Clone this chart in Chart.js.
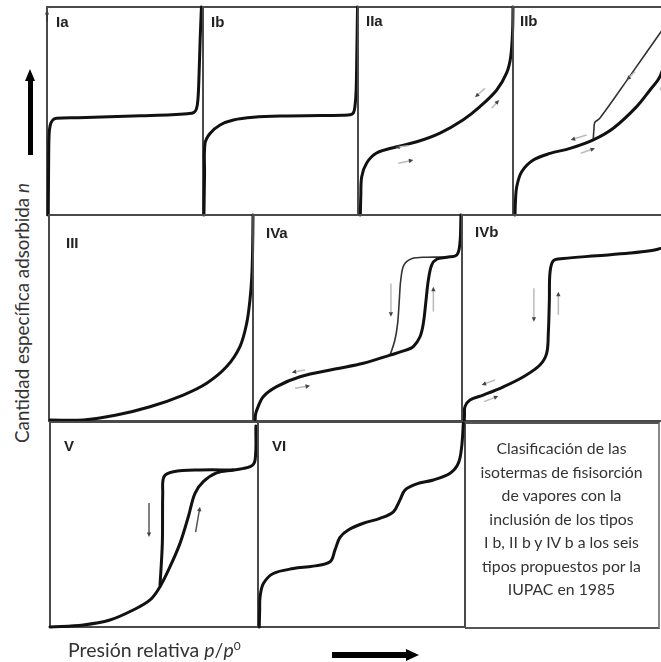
<!DOCTYPE html>
<html><head><meta charset="utf-8">
<script src="https://cdn.jsdelivr.net/npm/chart.js@4"></script>
<style>
body{margin:0;background:#fff;width:661px;height:662px;overflow:hidden;position:relative;font-family:Lato,'Open Sans',sans-serif}
.lab{position:absolute;font-family:'Liberation Sans',Arial,sans-serif;font-weight:bold;font-size:15px;line-height:15px;color:#222}
#ylab{position:absolute;left:21px;top:313px;transform:translate(-50%,-50%) rotate(-90deg);white-space:nowrap;font-size:18.8px;color:#333}
#xlab{position:absolute;left:68px;top:638px;white-space:nowrap;font-size:19.5px;color:#333}
#xlab sup{font-size:12px;line-height:0}
#tbox{position:absolute;left:465px;top:422px;width:195px;height:207px;box-sizing:border-box;border:2px solid #555;border-right-color:#888;border-left:none;text-align:center;font-size:15.8px;line-height:23.5px;color:#333;padding-top:12px;white-space:nowrap}
.bar{position:absolute;background:#000}
.tri{position:absolute;width:0;height:0}
</style></head><body>
<script>
// ---- data (normalized p/p0, normalized amount) ----
const ia_x=[0.008,0.01,0.013,0.02,0.035,0.06,0.2,0.4,0.6,0.8,0.9,0.94,0.958,0.968,0.975,0.982,0.99];
const ia_y=[0,0.2,0.38,0.43,0.455,0.465,0.468,0.472,0.477,0.482,0.487,0.492,0.51,0.56,0.68,0.85,1.0];
const ib_x=[0.006,0.01,0.013,0.045,0.11,0.196,0.325,0.518,0.76,0.9,0.95,0.97,0.98,0.988,0.993,0.997];
const ib_y=[0,0.2,0.344,0.392,0.433,0.457,0.47,0.476,0.478,0.48,0.482,0.49,0.52,0.6,0.8,1.0];
const iia_x=[0.015,0.018,0.024,0.056,0.12,0.25,0.379,0.529,0.677,0.787,0.895,0.959,0.985,0.997,1.0];
const iia_y=[0,0.09,0.184,0.25,0.298,0.328,0.352,0.394,0.457,0.521,0.601,0.683,0.76,0.88,1.0];
const iib_x=[0.013,0.016,0.024,0.056,0.131,0.239,0.368,0.518,0.647,0.798,0.884,0.948,0.98,0.995];
const iib_y=[0,0.07,0.136,0.208,0.264,0.296,0.32,0.361,0.417,0.521,0.601,0.665,0.75,0.9];
const iib_des_x=[0.518,0.522,0.528,0.56,0.755,0.948,1.0];
const iib_des_y=[0.369,0.41,0.445,0.465,0.669,0.874,0.93];
const iii_x=[0.005,0.168,0.331,0.495,0.658,0.773,0.871,0.936,0.969,0.985,0.994,0.998,1.0];
const iii_y=[0.005,0.005,0.029,0.069,0.126,0.183,0.264,0.361,0.474,0.587,0.70,0.83,1.0];
const iva_x=[0.01,0.012,0.018,0.049,0.113,0.225,0.392,0.528,0.656,0.735,0.767,0.799,0.815,0.828,0.839,0.855,0.879,0.927,0.975,0.99,0.995];
const iva_y=[0,0.03,0.053,0.118,0.167,0.215,0.252,0.28,0.32,0.345,0.361,0.409,0.474,0.587,0.684,0.757,0.785,0.795,0.806,0.863,1.0];
const iva_des_x=[0.656,0.679,0.692,0.7,0.707,0.722,0.759,0.831,0.927];
const iva_des_y=[0.32,0.393,0.474,0.587,0.684,0.757,0.788,0.795,0.795];
const ivb_x=[0.011,0.012,0.014,0.038,0.102,0.198,0.294,0.373,0.405,0.413,0.418,0.421,0.437,0.485,0.645,0.804,0.9,0.952,1.0];
const ivb_y=[0,0.03,0.069,0.102,0.126,0.166,0.215,0.272,0.328,0.425,0.587,0.72,0.778,0.789,0.802,0.815,0.826,0.838,0.85];
const v_x=[0,0.16,0.288,0.4,0.481,0.529,0.577,0.625,0.665,0.697,0.737,0.801,0.881,0.962,0.986,0.99];
const v_y=[0,0.01,0.034,0.083,0.132,0.197,0.294,0.408,0.538,0.652,0.709,0.752,0.766,0.782,0.815,0.98];
const v_des_x=[0.529,0.54,0.542,0.548,0.593,0.721,0.881];
const v_des_y=[0.205,0.408,0.652,0.733,0.757,0.766,0.766];
const vi_x=[0.006,0.008,0.01,0.026,0.074,0.171,0.267,0.348,0.372,0.396,0.436,0.509,0.589,0.654,0.686,0.71,0.767,0.847,0.928,0.968,0.984,0.992];
const vi_y=[0,0.08,0.147,0.212,0.261,0.285,0.297,0.318,0.376,0.437,0.473,0.506,0.53,0.562,0.62,0.668,0.698,0.717,0.75,0.799,0.88,0.994];
// direction arrows [x1,y1,x2,y2] (head at x2,y2)
const ia_arr=[[0,0.93,0,0.985]];
const iia_arr=[[0.325,0.333,0.239,0.325],[0.26,0.249,0.357,0.264],[0.819,0.609,0.755,0.566],[0.863,0.513,0.91,0.553]];
const iib_arr=[[0.787,0.689,0.733,0.649],[0.948,0.601,0.981,0.641],[0.475,0.385,0.372,0.361],[0.437,0.297,0.529,0.321]];
const iva_arr=[[0.249,0.248,0.185,0.236],[0.201,0.159,0.273,0.171],[0.66,0.668,0.66,0.506],[0.863,0.531,0.863,0.652]];
const ivb_arr=[[0.344,0.644,0.344,0.482],[0.461,0.515,0.461,0.628],[0.158,0.199,0.094,0.175],[0.105,0.094,0.174,0.121]];
const v_arr=[[0.476,0.605,0.476,0.439],[0.7,0.463,0.721,0.587]];
const labels=['Ia','Ib','IIa','IIb','III','IVa','IVb','V','VI'];

// ---- drawing ----
const P=5;
const framePlugin={id:'frame',beforeDatasetsDraw(ch){const a=ch.chartArea,c=ch.ctx;c.save();c.strokeStyle='#4a4a4a';c.lineWidth=2;c.strokeRect(a.left,a.top,a.right-a.left,a.bottom-a.top);c.restore();}};
function arrowPlugin(list,col){return {id:'arrows',afterDatasetsDraw(ch){const c=ch.ctx,xs=ch.scales.x,ys=ch.scales.y;c.save();
  list.forEach(r=>{const x1=xs.getPixelForValue(r[0]),y1=ys.getPixelForValue(r[1]),x2=xs.getPixelForValue(r[2]),y2=ys.getPixelForValue(r[3]);
    const ang=Math.atan2(y2-y1,x2-x1),h=5;
    c.strokeStyle=col;c.lineWidth=1.5;c.beginPath();c.moveTo(x1,y1);c.lineTo(x2-Math.cos(ang)*3,y2-Math.sin(ang)*3);c.stroke();
    c.fillStyle='#444';c.beginPath();c.moveTo(x2,y2);c.lineTo(x2-h*Math.cos(ang-0.45),y2-h*Math.sin(ang-0.45));c.lineTo(x2-h*Math.cos(ang+0.45),y2-h*Math.sin(ang+0.45));c.closePath();c.fill();});
  c.restore();}};}
function makePanel(box,series,arrows,arrCol,label,lpos){
  const c=document.createElement('canvas');
  c.width=box[2]+2*P;c.height=box[3]+2*P;
  c.style.cssText='position:absolute;left:'+(box[0]-P)+'px;top:'+(box[1]-P)+'px;width:'+(box[2]+2*P)+'px;height:'+(box[3]+2*P)+'px';
  document.body.appendChild(c);
  new Chart(c,{type:'scatter',
    data:{datasets:series.map(s=>({data:s.x.map((v,i)=>({x:v,y:s.y[i]})),showLine:true,borderColor:s.c||'#111',borderWidth:s.w||3,pointRadius:0,tension:0.35,fill:false,clip:false,borderCapStyle:'round',borderJoinStyle:'round'}))},
    options:{responsive:false,animation:false,devicePixelRatio:1,events:[],layout:{padding:P},
      plugins:{legend:{display:false},tooltip:{enabled:false}},
      scales:{x:{type:'linear',min:0,max:1,display:false},y:{type:'linear',min:0,max:1,display:false}}},
    plugins:[framePlugin,arrowPlugin(arrows,arrCol)]});
  const d=document.createElement('div');d.className='lab';d.textContent=label;d.style.left=lpos[0]+'px';d.style.top=lpos[1]+'px';document.body.appendChild(d);
}
makePanel([47,7,156,208],[{x:ia_x,y:ia_y}],ia_arr,'#333',labels[0],[56,14]);
makePanel([203,7,155,208],[{x:ib_x,y:ib_y}],[],'#999',labels[1],[211,14]);
makePanel([358,7,155,208],[{x:iia_x,y:iia_y}],iia_arr,'#bbb',labels[2],[366,13]);
makePanel([513,7,155,208],[{x:iib_x,y:iib_y},{x:iib_des_x,y:iib_des_y,w:1.6,c:'#333'}],iib_arr,'#bbb',labels[3],[520,13]);
makePanel([49,215,204,206],[{x:iii_x,y:iii_y}],[],'#999',labels[4],[66,235]);
makePanel([253,215,209,206],[{x:iva_x,y:iva_y},{x:iva_des_x,y:iva_des_y,w:1.6,c:'#333'}],iva_arr,'#bbb',labels[5],[266,225]);
makePanel([462,215,209,206],[{x:ivb_x,y:ivb_y}],ivb_arr,'#bbb',labels[6],[475,224]);
makePanel([50,422,208,205],[{x:v_x,y:v_y},{x:v_des_x,y:v_des_y}],v_arr,'#555',labels[7],[64,438]);
makePanel([258,422,207,205],[{x:vi_x,y:vi_y}],[],'#999',labels[8],[272,438]);
</script>
<div id="tbox">Clasificación de las<br>isotermas de fisisorción<br>de vapores con la<br>inclusión de los tipos<br>I b, II b y IV b a los seis<br>tipos propuestos por la<br>IUPAC en 1985</div>
<div id="ylab">Cantidad específica adsorbida <i>n</i></div>
<div id="xlab">Presión relativa <i>p</i>/<i>p</i><sup>0</sup></div>
<div class="bar" style="left:28px;top:80px;width:5px;height:75px"></div>
<div class="tri" style="left:25px;top:69px;border-left:5.5px solid transparent;border-right:5.5px solid transparent;border-bottom:12px solid #000"></div>
<div class="bar" style="left:332px;top:652px;width:76px;height:6px"></div>
<div class="tri" style="left:406px;top:649px;border-top:6px solid transparent;border-bottom:6px solid transparent;border-left:13px solid #000"></div>
</body></html>
